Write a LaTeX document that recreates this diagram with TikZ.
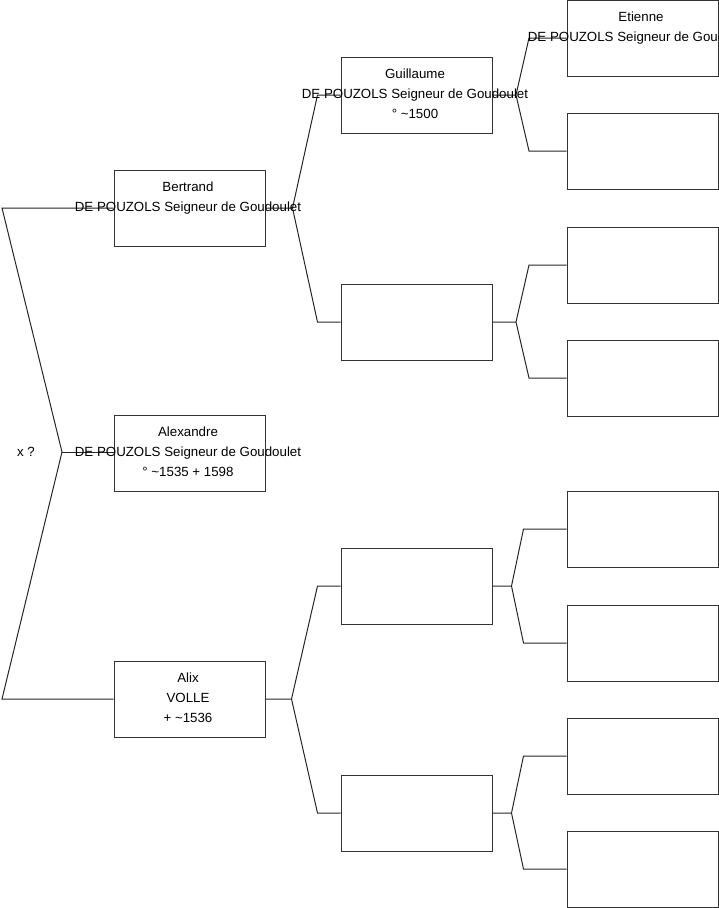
\documentclass[tikz,border=0pt]{standalone}
\usepackage{fontspec}
\setmainfont{Liberation Sans}
\tikzset{
  persbox/.style={draw=black!80, line width=1pt, minimum width=151pt, minimum height=76pt, inner sep=0pt},
  perstext/.style={font=\fontsize{13.3}{20}\selectfont, align=center, inner sep=0pt},
  famline/.style={draw=black!85, line width=1pt},
}
\newcommand{\famtext}[3]{\strut#1\\\strut#2\\\strut#3}

\begin{document}
\begin{tikzpicture}[x=1pt, y=-1pt]
  \useasboundingbox (0,0) rectangle (719,908);
  % generation 1
  \node[persbox] (bertrand) at (189.5,208) {};
  \node[persbox] (alexandre) at (189.5,453.5) {};
  \node[persbox] (alix) at (189.5,699) {};
  % generation 2
  \node[persbox] (guillaume) at (416.5,95) {};
  \node[persbox] (gp2) at (416.5,322) {};
  \node[persbox] (gp3) at (416.5,586) {};
  \node[persbox] (gp4) at (416.5,813) {};
  % generation 3
  \node[persbox] (etienne) at (642.5,38) {};
  \node[persbox] (ggp2) at (642.5,151) {};
  \node[persbox] (ggp3) at (642.5,265) {};
  \node[persbox] (ggp4) at (642.5,378) {};
  \node[persbox] (ggp5) at (642.5,529) {};
  \node[persbox] (ggp6) at (642.5,643) {};
  \node[persbox] (ggp7) at (642.5,756) {};
  \node[persbox] (ggp8) at (642.5,869) {};
  % couple
  \coordinate (wed) at (62,452);
  \coordinate (wedtop) at (2,208);
  \coordinate (wedbot) at (2,699);
  \draw[famline] (bertrand.west) -- (wedtop) -- (wed) -- (wedbot) -- (alix.west);
  \draw[famline] (wed) -- (alexandre.west |- wed);
  \node[perstext] (wedlabel) at (26,452) {x ?};
  % parents
  \foreach \kid/\up/\down/\va/\vb in {bertrand/guillaume/gp2/27/23, alix/gp3/gp4/26/23,
      guillaume/etienne/ggp2/23.5/37.5, gp2/ggp3/ggp4/23.5/37.5,
      gp3/ggp5/ggp6/19/43, gp4/ggp7/ggp8/19/43}
    \draw[famline] (\up.west) -- ([xshift=-\vb pt]\up.west) -- ([xshift=\va pt]\kid.east)
      -- ([xshift=-\vb pt]\down.west) -- (\down.west)
      ([xshift=\va pt]\kid.east) -- (\kid.east);
  % names
  \node[perstext, xshift=-1.5pt, yshift=1pt] (bertrandtxt) at (bertrand) {\famtext{Bertrand}{DE POUZOLS Seigneur de Goudoulet}{}};
  \node[perstext, xshift=-1.5pt, yshift=1pt] (alexandretxt) at (alexandre) {\famtext{Alexandre}{DE POUZOLS Seigneur de Goudoulet}{° \textasciitilde1535 + 1598}};
  \node[perstext, xshift=-1.5pt, yshift=1pt] (alixtxt) at (alix) {\famtext{Alix}{VOLLE}{+ \textasciitilde1536}};
  \node[perstext, xshift=-1.5pt, yshift=1pt] (guillaumetxt) at (guillaume) {\famtext{Guillaume}{DE POUZOLS Seigneur de Goudoulet}{° \textasciitilde1500}};
  \node[perstext, xshift=-1.5pt, yshift=1pt] (etiennetxt) at (etienne) {\famtext{Etienne}{DE POUZOLS Seigneur de Goudoulet}{}};
\end{tikzpicture}
\end{document}
